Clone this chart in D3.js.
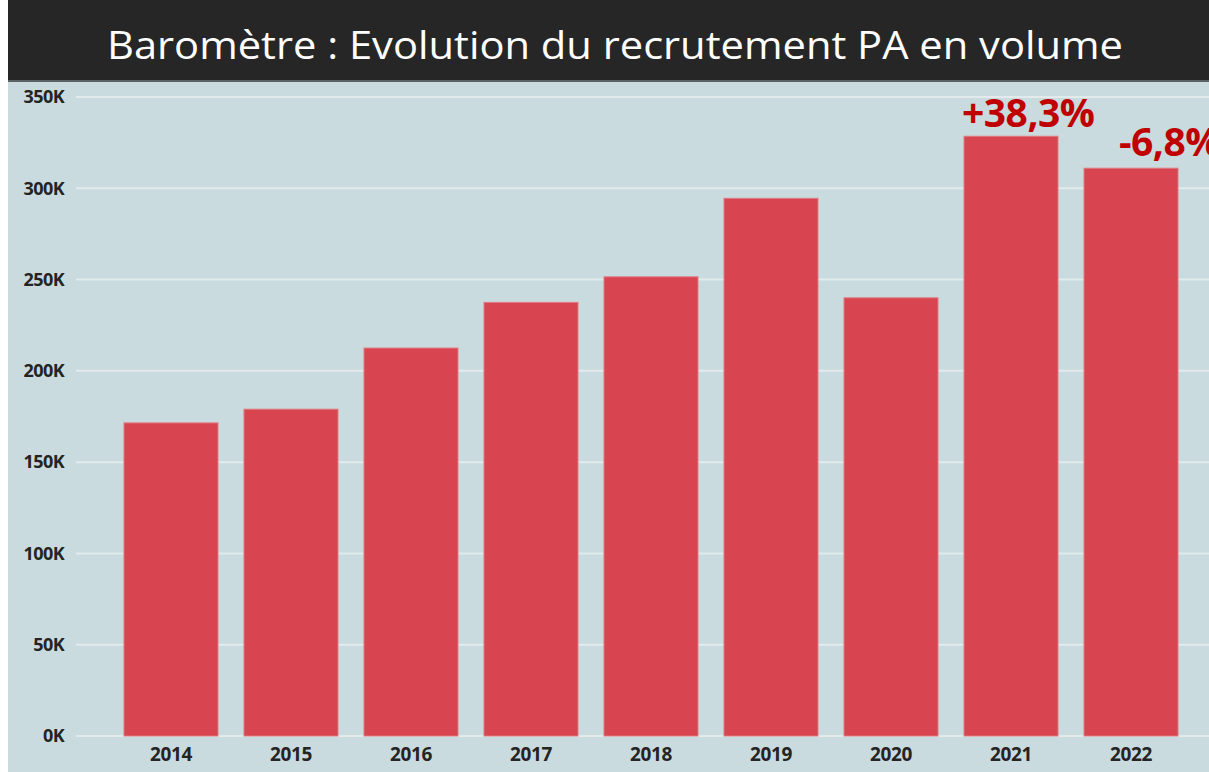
<!DOCTYPE html>
<html>
<head>
<meta charset="utf-8">
<script src="https://cdn.jsdelivr.net/npm/d3@7"></script>
<style>
  body { margin: 0; background: #fff; }
  svg { display: block; }
</style>
</head>
<body>
<div id="chart"></div>
<script>
// données
const years = ["2014", "2015", "2016", "2017", "2018", "2019", "2020", "2021", "2022"];
const volumes = [171500, 179000, 212500, 237500, 251500, 294500, 240000, 328500, 311000];
const yTicks = [0, 50000, 100000, 150000, 200000, 250000, 300000, 350000];
const annotYears = ["2021", "2022"];
const annotTexts = ["+38,3%", "-6,8%"];

const width = 1209, height = 772;

const svg = d3.select("#chart")
    .append("svg")
    .attr("width", width)
    .attr("height", height);

// bandeau titre
svg.append("rect")
    .attr("x", 8).attr("y", 0)
    .attr("width", width - 8).attr("height", 81)
    .attr("fill", "#262626");

svg.append("rect")
    .attr("x", 8).attr("y", 81)
    .attr("width", width - 8).attr("height", height - 81)
    .attr("fill", "#c9dbde");

svg.append("line")
    .attr("x1", 8).attr("x2", width)
    .attr("y1", 81).attr("y2", 81)
    .attr("stroke", "#5a6266")
    .attr("stroke-width", 2);

svg.append("text")
    .attr("x", 615)
    .attr("y", 59)
    .attr("text-anchor", "middle")
    .attr("font-family", "'Open Sans', sans-serif")
    .attr("font-size", "39px")
    .attr("fill", "#ffffff")
    .attr("textLength", 1016)
    .attr("lengthAdjust", "spacingAndGlyphs")
    .text("Baromètre : Evolution du recrutement PA en volume");

// échelles
const x = d3.scaleBand()
    .domain(years)
    .range([111, 1191])
    .paddingInner(0.2167)
    .paddingOuter(0.1083);

const y = d3.scaleLinear()
    .domain([0, 350000])
    .range([736, 97]);

// grille
svg.append("g")
    .selectAll("line")
    .data(yTicks)
    .enter().append("line")
    .attr("x1", 76)
    .attr("x2", width)
    .attr("y1", d => y(d))
    .attr("y2", d => y(d))
    .attr("stroke", "#e2eaec")
    .attr("stroke-width", 2);

// axe Y
const yAxis = svg.append("g")
    .attr("transform", "translate(64,0)")
    .call(d3.axisLeft(y).tickValues(yTicks).tickSize(0).tickPadding(0)
        .tickFormat(d => (d / 1000) + "K"));
yAxis.select(".domain").remove();
yAxis.selectAll("text")
    .attr("font-family", "'Open Sans', sans-serif")
    .attr("font-weight", "bold")
    .attr("font-size", "18px")
    .attr("fill", "#252423")
    .attr("letter-spacing", "-0.6px");

// barres
svg.append("g")
    .selectAll("rect")
    .data(years)
    .enter().append("rect")
    .attr("x", d => x(d))
    .attr("y", (d, i) => y(volumes[i]))
    .attr("width", x.bandwidth())
    .attr("height", (d, i) => y(0) - y(volumes[i]))
    .attr("fill", "#d84550")
    .attr("stroke", "#e07a80")
    .attr("stroke-width", 1);

// axe X
const xAxis = svg.append("g")
    .attr("transform", "translate(0,746)")
    .call(d3.axisBottom(x).tickSize(0).tickPadding(0));
xAxis.select(".domain").remove();
xAxis.selectAll("text")
    .attr("dy", "0.8em")
    .attr("font-family", "'Open Sans', sans-serif")
    .attr("font-weight", "bold")
    .attr("font-size", "19px")
    .attr("fill", "#252423")
    .attr("letter-spacing", "-0.4px");

// annotations
svg.append("g")
    .selectAll("text")
    .data(annotYears)
    .enter().append("text")
    .attr("x", (d, i) => i === 0 ? x(d) - 2 : x(d) + 35)
    .attr("y", (d, i) => y(volumes[years.indexOf(d)]) - (i === 0 ? 9 : 12))
    .attr("font-family", "'Open Sans', sans-serif")
    .attr("font-weight", "bold")
    .attr("font-size", "39px")
    .attr("fill", "#c00000")
    .attr("letter-spacing", "-0.5px")
    .text((d, i) => annotTexts[i]);
</script>
</body>
</html>
